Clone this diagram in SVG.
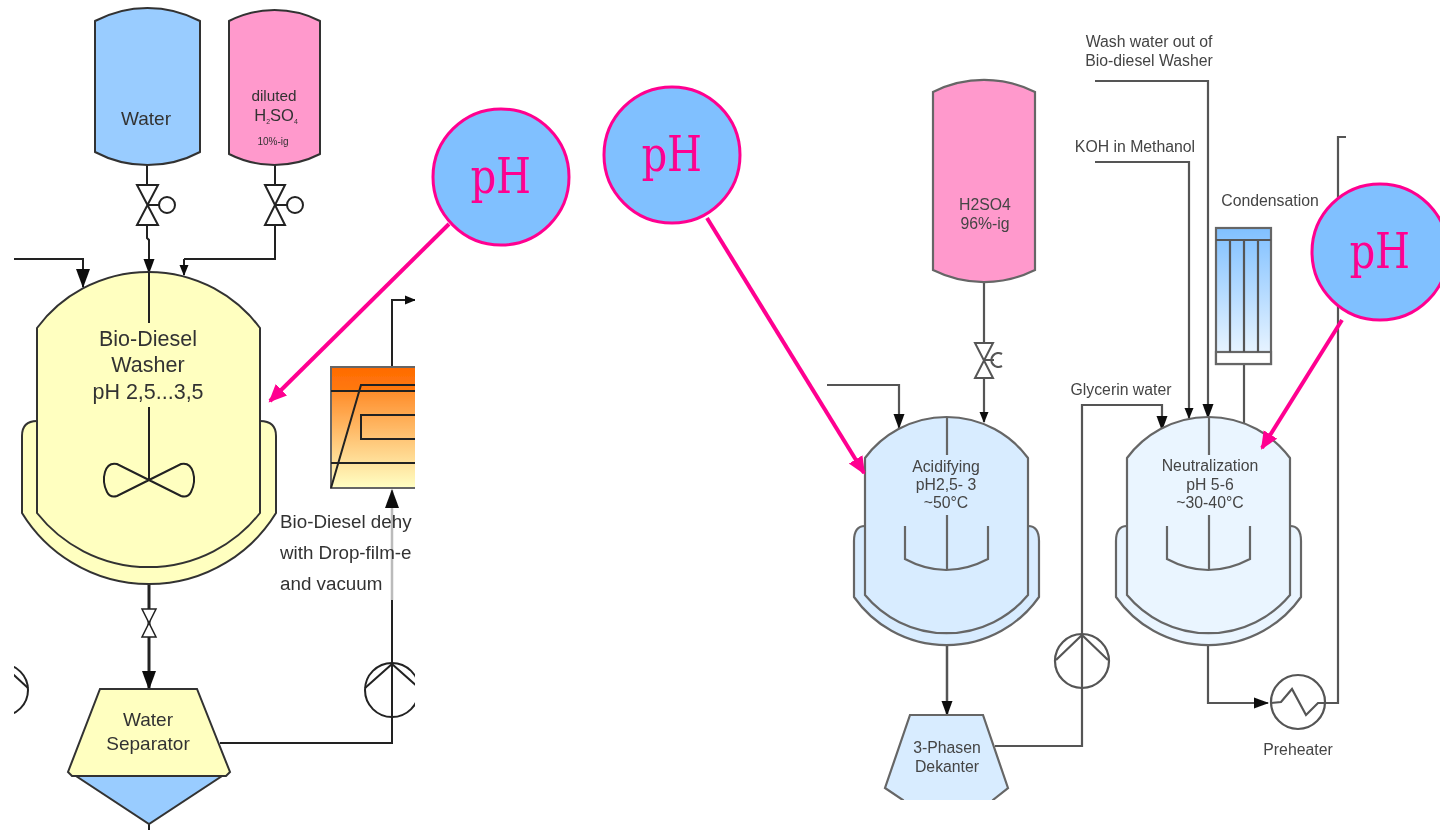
<svg xmlns="http://www.w3.org/2000/svg" width="1440" height="830" viewBox="0 0 1440 830">
<style>
text{font-family:"Liberation Sans",Arial,sans-serif;text-anchor:middle}
.l{fill:#333}
.r{fill:#444;font-size:15.800px}
.s{stroke:#222;stroke-width:2;fill:none}
.sr{stroke:#555;stroke-width:2.200;fill:none}
.o{stroke:#333;stroke-width:2}
.or{stroke:#666;stroke-width:2.200}
.v{fill:#fff;stroke:#222;stroke-width:2}
.ph circle{fill:#80c0ff;stroke:#ff0090;stroke-width:3}
.ph text{font-family:"DejaVu Serif",serif;font-size:40px;fill:#ff0090}
.p{stroke:#ff0090;stroke-width:4;fill:none;marker-end:url(#ap)}
</style>
<defs>
<filter id="soft" x="-5%" y="-5%" width="110%" height="110%"><feGaussianBlur stdDeviation="0.7"/></filter>
<clipPath id="cl"><rect x="14" y="0" width="401" height="830"/></clipPath>
<clipPath id="cr"><rect x="825" y="0" width="521" height="800"/></clipPath>
<linearGradient id="go" x1="0" y1="0" x2="0" y2="1"><stop offset="0" stop-color="#ff6a00"/><stop offset="0.2" stop-color="#ff7a10"/><stop offset="0.21" stop-color="#ff8e2c"/><stop offset="1" stop-color="#ffffc4"/></linearGradient>
<linearGradient id="gb" x1="0" y1="0" x2="0" y2="1"><stop offset="0" stop-color="#80c0ff"/><stop offset="1" stop-color="#f0f8ff"/></linearGradient>
<marker id="al" markerUnits="userSpaceOnUse" markerWidth="22" markerHeight="16" refX="18" refY="8" orient="auto"><path d="M0,1L19,8L0,15z" fill="#111"/></marker>
<marker id="am" markerUnits="userSpaceOnUse" markerWidth="16" markerHeight="14" refX="14" refY="6" orient="auto"><path d="M0,0.5L15,6L0,11.5z" fill="#111"/></marker>
<marker id="as" markerUnits="userSpaceOnUse" markerWidth="12" markerHeight="10" refX="10" refY="5" orient="auto"><path d="M0,0.5L11,5L0,9.500z" fill="#111"/></marker>
<marker id="ap" markerUnits="userSpaceOnUse" markerWidth="20" markerHeight="18" refX="16" refY="8" orient="auto"><path d="M0,0L18,8L0,16z" fill="#ff0090"/></marker>
<g id="rv">
<path class="or" d="M865,526Q854,526 854,541V597A113,113 0 0 0 1039,597V541Q1039,526 1028,526z"/>
<path class="or" d="M865,458A101.500,101.500 0 0 1 1028,458V595A106,106 0 0 1 865,595z"/>
<path class="or" fill="none" d="M947,417V455M947,515V570M905,526V559Q946,581 988,559V526"/>
</g>
</defs>
<rect width="1440" height="830" fill="#fff"/>

<g clip-path="url(#cl)"><g filter="url(#soft)">
<g id="connectors-left">
<path class="s" d="M147,164V185M147,225V238L149,240V272"/>
<path class="s" d="M149,240V273" marker-end="url(#am)"/>
<path class="s" d="M275,164V185M275,225V259H184" />
<path class="s" d="M184,259V275" marker-end="url(#as)"/>
<path class="s" d="M14,259H83V287" marker-end="url(#al)"/>
<path class="s" style="stroke-width:3" d="M149,567V689" marker-end="url(#al)"/>
<path class="s" d="M220,743H392V600"/>
<path d="M392,600V490" fill="none" stroke="#bbb" stroke-width="2.500" marker-end="url(#al)"/>
<path class="s" d="M392,385V300H415" marker-end="url(#as)"/>
<path class="s" d="M149,824V830"/>
</g>
<g id="tank-water"><path class="o" fill="#99ccff" d="M95,21A112,112 0 0 1 200,21V152A112,112 0 0 1 95,152z"/>
<text class="l" x="146" y="125" font-size="19">Water</text></g>
<g id="tank-diluted"><path class="o" fill="#ff99cc" d="M229,21A100,100 0 0 1 320,21V154A100,100 0 0 1 229,154z"/>
<text class="l" x="274" y="101" font-size="15.300">diluted</text>
<text class="l" x="276" y="121" font-size="16.500">H<tspan font-size="7" dy="3">2</tspan><tspan dy="-3">SO</tspan><tspan font-size="7" dy="3">4</tspan></text>
<text class="l" x="273" y="145" font-size="10">10%-ig</text></g>
<g id="valve-water"><path class="v" d="M137,185H158L137,225H158z"/><path class="s" d="M148,205H159"/><circle class="v" cx="167" cy="205" r="8"/></g>
<g id="valve-diluted"><path class="v" d="M265,185H285L265,225H285z"/><path class="s" d="M275,205H287"/><circle class="v" cx="295" cy="205" r="8"/></g>
<g id="washer">
<path class="o" fill="#ffffc0" d="M37,421Q22,421 22,436V513A149,149 0 0 0 276,513V436Q276,421 260,421z"/>
<path class="o" fill="#ffffc0" d="M37,328A139,139 0 0 1 260,328V513A142,142 0 0 1 37,513z"/>
<path class="s" d="M149,272V323M149,407V480"/>
<path class="s" d="M149,480L117,464Q108,462 105,472Q102,482 107,492Q110,498 117,496L149,480L181,464Q190,462 193,472Q196,482 191,492Q188,498 181,496z"/>
<text class="l" x="148" y="346" font-size="21.500">Bio-Diesel</text>
<text class="l" x="148" y="372" font-size="21.500">Washer</text>
<text class="l" x="148" y="399" font-size="21.500">pH 2,5...3,5</text>
</g>
<g id="valve-bottom"><path class="v" style="stroke-width:1.500" d="M142,609H156L142,637H156z"/></g>
<g id="separator">
<path class="o" fill="#99ccff" d="M76,776H222L149,824z"/>
<path class="o" fill="#ffffc0" d="M100,689H197L230,772L226,776H72L68,772z"/>
<text class="l" x="148" y="726" font-size="19">Water</text>
<text class="l" x="148" y="750" font-size="19">Separator</text>
</g>
<g id="pump-left"><circle class="s" cx="2" cy="690" r="26"/><path class="s" d="M2,664L28,688"/></g>
<g id="pump-mid"><circle class="s" cx="392" cy="690" r="27"/><path class="s" d="M392,600V743M392,664L365,688M392,664L419,688"/></g>
<g id="dehydrator">
<rect class="o" style="stroke:#666" x="331" y="367" width="100" height="121" fill="url(#go)"/>
<path class="s" d="M331,391H415M331,463H415M331,488L361,385H415"/>
<rect class="s" x="361" y="415" width="60" height="24"/>
<text class="l" x="280" y="528" font-size="18.800" style="text-anchor:start">Bio-Diesel dehy</text>
<text class="l" x="280" y="559" font-size="18.800" style="text-anchor:start">with Drop-film-e</text>
<text class="l" x="280" y="590" font-size="18.800" style="text-anchor:start">and vacuum</text>
</g>
</g></g>

<g clip-path="url(#cr)"><g filter="url(#soft)">
<g id="connectors-right">
<path class="sr" d="M984,283V343M984,378V422" marker-end="url(#as)"/>
<path class="sr" d="M827,385H899V428" marker-end="url(#am)"/>
<path class="sr" d="M1095,81H1208V418" marker-end="url(#am)"/>
<path class="sr" d="M1095,162H1189V418" marker-end="url(#as)"/>
<path class="sr" d="M1244,364V424"/>
<path class="sr" d="M1346,137H1338V703H1325"/>
<path class="sr" d="M995,746H1082V405H1162V430" marker-end="url(#am)"/>
<path class="sr" d="M947,640V715" marker-end="url(#am)" style="stroke-width:2.500"/>
<path class="sr" d="M1208,640V703H1268" marker-end="url(#am)"/>
</g>
<g id="tank-h2so4"><path class="or" fill="#ff99cc" d="M933,92A114,114 0 0 1 1035,92V270A114,114 0 0 1 933,270z"/>
<text class="r" x="985" y="210">H2SO4</text><text class="r" x="985" y="229">96%-ig</text></g>
<g id="valve-h2so4"><path class="v" style="stroke:#555" d="M975,343H993L975,378H993z"/><path class="sr" d="M1002,354A7,7 0 1 0 1002,366M984,360H994"/></g>
<g id="condenser">
<rect class="or" x="1216" y="228" width="55" height="136" fill="url(#gb)"/>
<rect class="or" x="1216" y="352" width="55" height="12" fill="#fff"/>
<path class="sr" d="M1216,240H1271M1230,240V352M1244,240V352M1258,240V352"/>
<text class="r" x="1270" y="206">Condensation</text></g>
<g id="acidifying"><use href="#rv" fill="#d8ecff"/>
<text class="r" x="946" y="472">Acidifying</text><text class="r" x="946" y="490">pH2,5- 3</text><text class="r" x="946" y="508">~50°C</text></g>
<g id="neutralization"><use href="#rv" x="262" fill="#eaf5ff"/>
<text class="r" x="1210" y="471">Neutralization</text><text class="r" x="1210" y="490">pH 5-6</text><text class="r" x="1210" y="508">~30-40°C</text></g>
<g id="dekanter"><path class="or" fill="#d8ecff" d="M910,715H983L1008,788L993,800V806H903V800L885,788z"/>
<text class="r" x="947" y="753">3-Phasen</text><text class="r" x="947" y="772">Dekanter</text></g>
<g id="pump-right"><circle class="sr" cx="1082" cy="661" r="27"/><path class="sr" d="M1082,635L1056,660M1082,635L1108,660"/></g>
<g id="preheater"><circle class="sr" cx="1298" cy="702" r="27"/><path class="sr" d="M1271,703L1281,702L1292,689L1306,715L1318,703H1325"/>
<text class="r" x="1298" y="755">Preheater</text></g>
<g id="labels">
<text class="r" x="1149" y="47">Wash water out of</text>
<text class="r" x="1149" y="66">Bio-diesel Washer</text>
<text class="r" x="1135" y="152">KOH in Methanol</text>
<text class="r" x="1121" y="395">Glycerin water</text>
</g>
</g></g>

<g id="connectors-ph">
<path class="p" d="M449,224L270,401"/>
<path class="p" d="M707,218L864,473"/>
<path class="p" d="M1342,320L1262,448"/>
</g>
<g id="ph-1" class="ph"><circle cx="501" cy="177" r="68"/><text transform="translate(501,193) scale(1,1.200)">pH</text></g>
<g id="ph-2" class="ph"><circle cx="672" cy="155" r="68"/><text transform="translate(672,171) scale(1,1.200)">pH</text></g>
<g id="ph-3" class="ph"><circle cx="1380" cy="252" r="68"/><text transform="translate(1380,268) scale(1,1.200)">pH</text></g>
</svg>
